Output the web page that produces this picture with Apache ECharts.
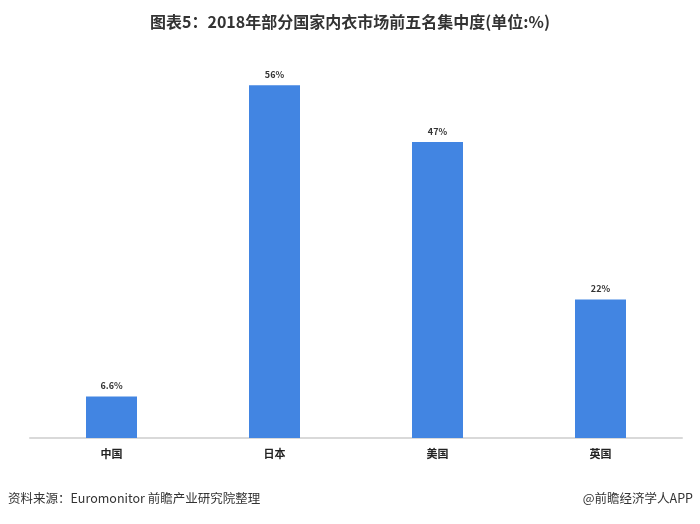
<!DOCTYPE html>
<html><head><meta charset="utf-8">
<script src="https://cdn.jsdelivr.net/npm/echarts@6/dist/echarts.min.js"></script>
<style>html,body{margin:0;padding:0;background:#fff}#c{width:700px;height:524px}</style>
</head><body><div id="c"></div>
<script>
var categories = ['中国', '日本', '美国', '英国'];
var values = [6.6, 56, 47, 22];
var valueLabels = ['6.6%', '56%', '47%', '22%'];
var titleText = '图表5：2018年部分国家内衣市场前五名集中度(单位:%)';
var sourceText = '资料来源：Euromonitor 前瞻产业研究院整理';
var brandText = '@前瞻经济学人APP';

var chart = echarts.init(document.getElementById('c'), null, {renderer: 'canvas'});
chart.setOption({
  backgroundColor: '#fff',
  animation: false,
  title: {
    text: titleText, left: 'center', top: 9,
    textStyle: {fontFamily: 'Noto Sans CJK SC', fontSize: 16, fontWeight: 'bold', color: '#333'}
  },
  graphic: [
    {type: 'text', left: 8, top: 492, style: {text: sourceText, font: '12.5px "Noto Sans CJK SC"', fill: '#333'}},
    {type: 'text', right: 7, top: 492, style: {text: brandText, font: '12.5px "Noto Sans CJK SC"', fill: '#333'}}
  ],
  grid: {left: 30, right: 18, top: 60, bottom: 86, containLabel: false},
  xAxis: {
    type: 'category', data: categories,
    axisLine: {lineStyle: {color: '#d9d9d9', width: 2}},
    axisTick: {show: false},
    axisLabel: {fontFamily: 'Noto Sans CJK SC', fontSize: 11, fontWeight: 'bold', color: '#222', margin: 10}
  },
  yAxis: {type: 'value', min: 0, max: 60, show: false, splitLine: {show: false}},
  series: [{
    type: 'bar', data: values, barWidth: 51,
    itemStyle: {color: '#4285e2'},
    label: {
      show: true, position: 'top', distance: 6,
      formatter: function (p) { return valueLabels[p.dataIndex]; },
      fontFamily: 'Noto Sans CJK SC', fontSize: 9, fontWeight: 'bold', color: '#333'
    }
  }]
});
</script></body></html>
